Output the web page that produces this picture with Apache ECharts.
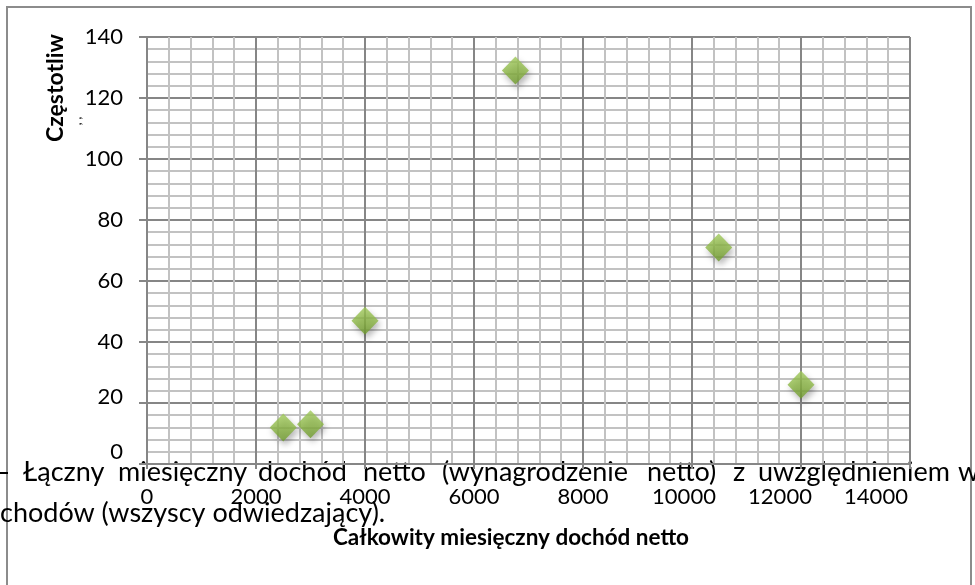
<!DOCTYPE html>
<html>
<head>
<meta charset="utf-8">
<script src="https://cdn.jsdelivr.net/npm/echarts@6/dist/echarts.min.js"></script>
<style>
  html, body { margin: 0; padding: 0; background: #fff; }
  #chart { width: 975px; height: 585px; }
</style>
</head>
<body>
<div id="chart"></div>
<script>
// dochód (x) i częstotliwość (y)
const incomeValues = [2500, 3000, 4000, 6760, 10490, 12000];
const frequencyValues = [12, 13, 47, 129, 71, 26];
const xTitle = "Całkowity miesięczny dochód netto";
const yTitle = "Częstotliw";
const paragraphLine1 = ["Łączny", "miesięczny", "dochód", "netto", "(wynagrodzenie", "netto)", "z", "uwzględnieniem", "w"];
const paragraphLine2 = "chodów (wszyscy odwiedzający).";

const points = incomeValues.map((x, i) => [x, frequencyValues[i]]);

const chart = echarts.init(document.getElementById("chart"));
const font = "Lato, 'Liberation Sans', sans-serif";
const majorColor = "#868686";
const minorColor = "#c2c2c2";

// miejsca słów w wyjustowanym wierszu
const wordX = [23, 118, 258, 363, 442, 647, 733, 758, 958];

const graphic = [
  {
    type: "rect",
    shape: { x: 7, y: 7, width: 964, height: 600 },
    style: { fill: null, stroke: "#8c8c8c", lineWidth: 2 },
    silent: true,
  },
  {
    type: "text",
    x: 56,
    y: 88,
    rotation: Math.PI / 2,
    style: {
      text: yTitle,
      font: "bold 23px " + font,
      fill: "#000",
      align: "center",
      verticalAlign: "middle",
    },
  },
  {
    type: "text",
    x: 77,
    y: 121,
    rotation: Math.PI / 2,
    style: { text: ", ,", font: "bold 12px " + font, fill: "#333", align: "center", verticalAlign: "middle" },
  },
  {
    type: "text",
    x: 511,
    y: 538,
    style: {
      text: xTitle,
      font: "bold 22.5px " + font,
      fill: "#000",
      align: "center",
      verticalAlign: "middle",
    },
  },
  {
    type: "rect",
    shape: { x: 0, y: 472, width: 8, height: 2 },
    style: { fill: "#000" },
  },
  {
    type: "text",
    x: 0,
    y: 513,
    style: { text: paragraphLine2, font: "27px " + font, fill: "#000", verticalAlign: "middle" },
  },
];
paragraphLine1.forEach((w, i) => {
  graphic.push({
    type: "text",
    x: wordX[i],
    y: 472,
    style: { text: w, font: "27px " + font, fill: "#000", verticalAlign: "middle" },
  });
});

const labelFont = { fontSize: 22, fontFamily: font, color: "#000" };

const option = {
  animation: false,
  backgroundColor: "#fff",
  grid: { left: 147, right: 65, top: 37, bottom: 121 },
  xAxis: {
    type: "value",
    min: 0,
    max: 14000,
    interval: 2000,
    axisLine: { show: true, lineStyle: { color: majorColor, width: 2 } },
    axisTick: { show: true, length: 5, lineStyle: { color: majorColor, width: 2 } },
    axisLabel: Object.assign({}, labelFont, {
      margin: 22,
      // Excel ścisnął ostatnie etykiety w lewo
      formatter: (v) => (v >= 10000 ? "{s" + v + "|" + v + "}" : String(v)),
      rich: {
        s10000: Object.assign({}, labelFont, { padding: [0, 16, 0, 0] }),
        s12000: Object.assign({}, labelFont, { padding: [0, 42, 0, 0] }),
        s14000: Object.assign({}, labelFont, { padding: [0, 68, 0, 0] }),
      },
    }),
    splitLine: { show: true, lineStyle: { color: majorColor, width: 2 } },
    minorTick: { show: false, splitNumber: 5 },
    minorSplitLine: { show: true, lineStyle: { color: minorColor, width: 2 } },
  },
  yAxis: {
    type: "value",
    min: 0,
    max: 140,
    interval: 20,
    axisLine: { show: true, lineStyle: { color: majorColor, width: 2 } },
    axisTick: { show: true, length: 8, lineStyle: { color: majorColor, width: 2 } },
    axisLabel: Object.assign({}, labelFont, {
      margin: 24,
      formatter: (v) => (v <= 20 ? "{u" + v + "|" + v + "}" : String(v)),
      rich: {
        u0: Object.assign({}, labelFont, { padding: [0, 0, 24, 0] }),
        u20: Object.assign({}, labelFont, { padding: [0, 0, 12, 0] }),
      },
    }),
    splitLine: { show: true, lineStyle: { color: majorColor, width: 2 } },
    minorTick: { show: false, splitNumber: 5 },
    minorSplitLine: { show: true, lineStyle: { color: minorColor, width: 2 } },
  },
  series: [
    {
      type: "scatter",
      data: points,
      symbol: "diamond",
      symbolSize: [27, 28],
      itemStyle: {
        color: new echarts.graphic.LinearGradient(0, 0, 0, 1, [
          { offset: 0, color: "#a0c95a" },
          { offset: 0.6, color: "#8ab543" },
          { offset: 1, color: "#6e9a2c" },
        ]),
        shadowColor: "rgba(0,0,0,0.35)",
        shadowBlur: 6,
        shadowOffsetX: 2,
        shadowOffsetY: 4,
      },
    },
  ],
  graphic: graphic,
};

chart.setOption(option);
</script>
</body>
</html>
